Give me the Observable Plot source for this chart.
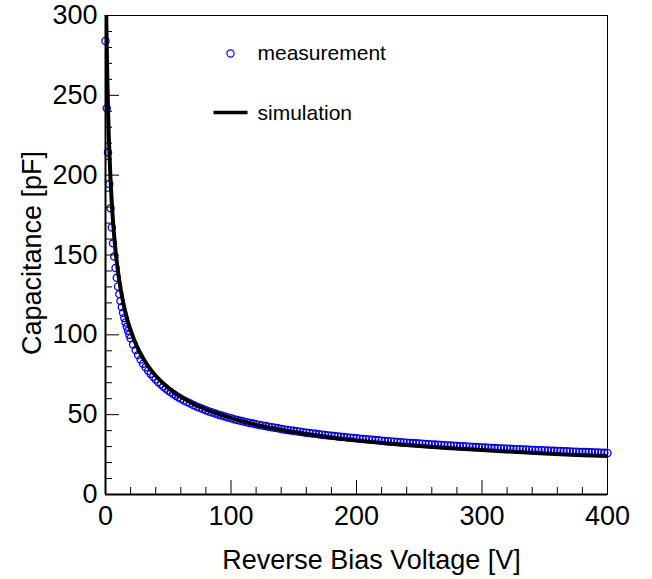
<!DOCTYPE html>
<html>
<head>
<meta charset="utf-8">
<script src="https://cdn.jsdelivr.net/npm/d3@7"></script>
<script src="https://cdn.jsdelivr.net/npm/@observablehq/plot@0.6"></script>
<style>
  html, body { margin: 0; padding: 0; background: #fff; }
  #chart { width: 652px; height: 579px; }
</style>
</head>
<body>
<div id="chart"></div>
<script>
// ---- data ----
const measV = [0,1,2,3,4,5,6,7,8,9,10,11,12,13,14,15,16,17,18,19,20,
  22,24,26,28,30,32,34,36,38,40,42,44,46,48,50,52,54,56,58,
  60,62.5,65,67.5,70,72.5,75,77.5,80,82.5,85,87.5,90,92.5,95,97.5,100,
  102.5,105,107.5,110,112.5,115,117.5,120,122.5,125,127.5,130,132.5,135,137.5,140,142.5,145,147.5,150,
  152.5,155,157.5,160,162.5,165,167.5,170,172.5,175,177.5,180,182.5,185,187.5,190,192.5,195,197.5,200,
  202.5,205,207.5,210,212.5,215,217.5,220,222.5,225,227.5,230,232.5,235,237.5,240,242.5,245,247.5,250,
  252.5,255,257.5,260,262.5,265,267.5,270,272.5,275,277.5,280,282.5,285,287.5,290,292.5,295,297.5,300,
  302.5,305,307.5,310,312.5,315,317.5,320,322.5,325,327.5,330,332.5,335,337.5,340,342.5,345,347.5,350,
  352.5,355,357.5,360,362.5,365,367.5,370,372.5,375,377.5,380,382.5,385,387.5,390,392.5,395,397.5,400];
const measC = [284.0,241.9,214.3,194.4,179.3,167.2,157.3,149.0,141.9,135.7,130.3,125.5,121.2,117.4,113.8,110.6,107.7,105.0,102.5,100.1,97.9,
  93.93,90.43,87.31,84.49,81.95,79.63,77.50,75.55,73.74,72.06,70.50,69.04,67.67,66.38,65.17,64.03,62.95,61.92,60.95,
  60.03,58.95,57.90,56.93,56.00,55.13,54.29,53.49,52.73,52.01,51.32,50.66,50.02,49.41,48.82,48.26,47.72,
  47.20,46.69,46.20,45.73,45.28,44.84,44.41,44.00,43.60,43.21,42.83,42.47,42.11,41.76,41.42,41.10,40.78,40.47,40.16,39.87,
  39.58,39.30,39.02,38.75,38.49,38.24,37.99,37.74,37.50,37.26,37.03,36.81,36.59,36.37,36.16,35.95,35.74,35.54,35.35,35.16,
  34.97,34.78,34.60,34.42,34.24,34.07,33.90,33.73,33.56,33.40,33.24,33.08,32.93,32.78,32.63,32.48,32.33,32.19,32.05,31.91,
  31.77,31.64,31.50,31.37,31.24,31.12,30.99,30.86,30.74,30.62,30.50,30.38,30.26,30.15,30.03,29.92,29.81,29.70,29.59,29.49,
  29.38,29.28,29.17,29.07,28.97,28.87,28.77,28.68,28.58,28.49,28.39,28.30,28.20,28.11,28.02,27.93,27.84,27.76,27.67,27.59,
  27.50,27.42,27.33,27.25,27.17,27.09,27.01,26.93,26.85,26.77,26.69,26.62,26.54,26.47,26.39,26.32,26.24,26.17,26.10,26.03];

const simV = [0.5,0.6,0.8,1,1.5,2,2.5,3,4,5,6,7,8,10,12,14,16,18,20,25,30,35,40,45,50,60,70,80,90,100,120,140,160,180,200,225,250,275,300,325,350,375,400];
const simC = [306.4,300.4,289.4,279.5,258.6,241.8,227.9,216.2,197.3,182.6,170.7,161.0,152.7,139.3,129.0,120.6,113.7,107.9,102.9,92.8,85.3,79.3,74.4,70.4,66.9,61.3,56.8,53.3,50.3,47.8,43.7,40.5,37.9,35.7,33.9,32.0,30.4,29.0,27.8,26.7,25.7,24.8,24.1];

const xMajor = [0,100,200,300,400];
const xMinor = [20,40,60,80,120,140,160,180,220,240,260,280,320,340,360,380];
const yMajor = [0,50,100,150,200,250,300];
const yMinor = [10,20,30,40,60,70,80,90,110,120,130,140,160,170,180,190,210,220,230,240,260,270,280,290];

const xTitle = "Reverse Bias Voltage [V]";
const yTitle = "Capacitance [pF]";
const legendLabels = ["measurement", "simulation"];

// ---- tables ----
const meas = measV.map((v, i) => ({v, c: measC[i]}));
const sim = simV.map((v, i) => ({v, c: simC[i]}));

const W = 652, H = 579;
const mL = 105, mR = 45, mT = 15, mB = 85;
const fw = W - mL - mR, fh = H - mT - mB;
const font = "'Liberation Sans', Arial, Helvetica, sans-serif";

const dashSymbol = { draw(ctx, size) { ctx.moveTo(-17, 0); ctx.lineTo(17, 0); } };

const chart = Plot.plot({
  width: W, height: H,
  marginLeft: mL, marginRight: mR, marginTop: mT, marginBottom: mB,
  style: { fontFamily: font, background: "#fff", color: "#000", overflow: "visible" },
  x: { domain: [0, 400] },
  y: { domain: [0, 300] },
  marks: [
    Plot.dot(meas, { x: "v", y: "c", r: 3.6, stroke: "#0000ff", strokeWidth: 1.3, fill: "none" }),
    Plot.line(sim, { x: "v", y: "c", stroke: "#000", strokeWidth: 4, curve: "monotone-x", clip: true }),
    Plot.frame({ stroke: "#000", strokeWidth: 1 }),
    Plot.ruleX([xMajor[0]], { stroke: "#000", strokeWidth: 2 }),
    Plot.ruleY([yMajor[0]], { stroke: "#000", strokeWidth: 2 }),
    Plot.tickX(xMajor, { x: d => d, insetTop: fh - 14, stroke: "#000", strokeWidth: 1 }),
    Plot.tickX(xMinor, { x: d => d, insetTop: fh - 7, stroke: "#000", strokeWidth: 1 }),
    Plot.tickY(yMajor, { y: d => d, insetRight: fw - 14, stroke: "#000", strokeWidth: 1 }),
    Plot.tickY(yMinor, { y: d => d, insetRight: fw - 7, stroke: "#000", strokeWidth: 1 }),
    Plot.axisX({ ticks: xMajor, tickSize: 0, tickPadding: 11, fontSize: 27, tickFormat: d => String(d), label: null }),
    Plot.axisY({ ticks: yMajor, tickSize: 0, tickPadding: 8, fontSize: 27, tickFormat: d => String(d), label: null }),
    Plot.text([xTitle], { text: d => d, frameAnchor: "bottom", dx: 15, dy: 66, fontSize: 27, textAnchor: "middle", lineAnchor: "middle", fill: "#000" }),
    Plot.text([yTitle], { text: d => d, frameAnchor: "left", rotate: -90, dx: -73, dy: -2, fontSize: 27, textAnchor: "middle", lineAnchor: "middle", fill: "#000" }),
    // legend
    Plot.dot([legendLabels[0]], { frameAnchor: "top-left", dx: 125, dy: 38, r: 3.6, stroke: "#0000ff", strokeWidth: 1.2, fill: "none" }),
    Plot.text([legendLabels[0]], { text: d => d, frameAnchor: "top-left", dx: 152, dy: 38, fontSize: 21, textAnchor: "start", lineAnchor: "middle", fill: "#000" }),
    Plot.dot([legendLabels[1]], { frameAnchor: "top-left", dx: 125, dy: 97, symbol: dashSymbol, r: 1, stroke: "#000", strokeWidth: 3.5 }),
    Plot.text([legendLabels[1]], { text: d => d, frameAnchor: "top-left", dx: 152, dy: 98, fontSize: 21, textAnchor: "start", lineAnchor: "middle", fill: "#000" })
  ]
});
document.getElementById("chart").appendChild(chart);
</script>
</body>
</html>
